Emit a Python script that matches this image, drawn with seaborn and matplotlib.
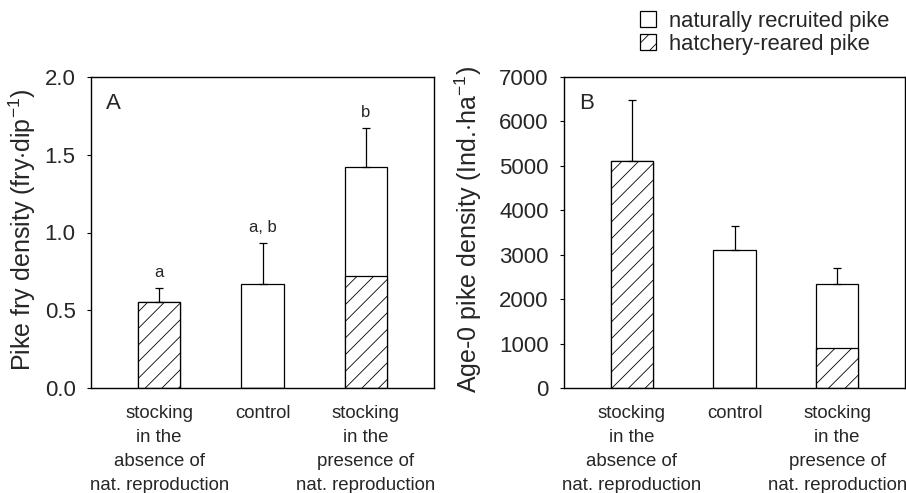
import matplotlib
matplotlib.use("Agg")
import matplotlib.pyplot as plt
import matplotlib.patches as mpatches
import seaborn as sns
import pandas as pd
import numpy as np

categories = ["stocking\nin the\nabsence of\nnat. reproduction",
              "control",
              "stocking\nin the\npresence of\nnat. reproduction"]

# Panel A: pike fry density (fry/dip)
a_total = [0.55, 0.67, 1.42]
a_hatchery = [0.55, 0.0, 0.72]
a_upper = [0.64, 0.93, 1.67]
a_letters = ["a", "a, b", "b"]
a_ticks = [0.0, 0.5, 1.0, 1.5, 2.0]

# Panel B: age-0 pike density (Ind/ha)
b_total = [5100, 3100, 2330]
b_hatchery = [5100, 0, 900]
b_upper = [6480, 3650, 2700]
b_ticks = [0, 1000, 2000, 3000, 4000, 5000, 6000, 7000]

sns.set_style("white")
plt.rcParams["font.family"] = ["Liberation Sans", "DejaVu Sans"]
plt.rcParams["hatch.linewidth"] = 0.6
plt.rcParams["mathtext.fontset"] = "custom"
plt.rcParams["mathtext.rm"] = "Liberation Sans"
plt.rcParams["mathtext.it"] = "Liberation Sans"

fig = plt.figure(figsize=(9.06, 4.93), dpi=100)
axA = fig.add_axes([91/906, 1-388/493, (434-91)/906, (388-77)/493])
axB = fig.add_axes([564/906, 1-388/493, (905-564)/906, (388-77)/493])


def draw(ax, total, hatch, upper, ticks, ymax, fmt, ylabel, panel, labelx, letters=None):
    df = pd.DataFrame({"cat": categories, "total": total, "hatch": hatch})
    sns.barplot(data=df, x="cat", y="total", color="white", edgecolor="black",
                linewidth=0.9, width=0.41, ax=ax, saturation=1, errorbar=None)
    sns.barplot(data=df, x="cat", y="hatch", color="white", edgecolor="black",
                linewidth=0.9, width=0.41, ax=ax, saturation=1, errorbar=None,
                hatch="//")
    x = np.arange(len(total))
    err = np.array(upper) - np.array(total)
    ax.errorbar(x, total, yerr=[np.zeros_like(err), err], fmt="none",
                ecolor="black", elinewidth=0.9, capsize=3, capthick=0.9)
    if letters:
        for xi, u, t in zip(x, upper, letters):
            ax.annotate(t, (xi, u), xytext=(0, 11.5), textcoords="offset points",
                        ha="center", va="center", fontsize=12)
    ax.set_xlim(-0.66, 2.66)
    ax.set_ylim(0, ymax)
    ax.set_yticks(ticks)
    ax.set_yticklabels([fmt(t) for t in ticks], fontsize=16)
    ax.set_xticks(x)
    ax.set_xticklabels(categories, fontsize=13.4, linespacing=1.55)
    ax.tick_params(axis="x", length=0, pad=12)
    ax.tick_params(axis="y", length=3, width=0.8, direction="out", color="black",
                   left=True, pad=8)
    ax.set_xlabel("")
    ax.set_ylabel(ylabel, fontsize=18)
    ax.yaxis.set_label_coords(labelx, 0.51)
    for s in ax.spines.values():
        s.set_visible(True)
        s.set_color("black")
        s.set_linewidth(1.0)
    ax.text(0.045, 0.915, panel, transform=ax.transAxes, fontsize=16, ha="left", va="center")


draw(axA, a_total, a_hatchery, a_upper, a_ticks, 2.0, lambda t: f"{t:.1f}",
     r"Pike fry density (fry$\cdot$dip$^{-1}$)", "A", (38-91)/343, a_letters)
draw(axB, b_total, b_hatchery, b_upper, b_ticks, 7000, lambda t: f"{int(t)}",
     r"Age-0 pike density (Ind.$\cdot$ha$^{-1}$)", "B", (484-564)/341)

handles = [mpatches.Patch(facecolor="white", edgecolor="black", linewidth=0.9),
           mpatches.Patch(facecolor="white", edgecolor="black", linewidth=0.9, hatch="//")]
fig.legend(handles, ["naturally recruited pike", "hatchery-reared pike"],
           loc="upper left", bbox_to_anchor=(629/906, 1.0), frameon=False,
           fontsize=15.8, handlelength=0.75, handleheight=0.75, handletextpad=0.6,
           labelspacing=0.1, borderaxespad=0.08)

fig.savefig("out.png", dpi=100)
